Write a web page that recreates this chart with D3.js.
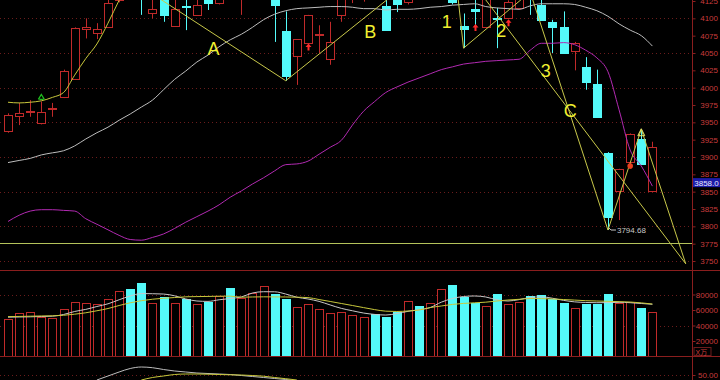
<!DOCTYPE html>
<html>
<head>
<meta charset="utf-8">
<script src="https://cdn.jsdelivr.net/npm/d3@7"></script>
<style>
html, body { margin: 0; padding: 0; background: #000; overflow: hidden; }
svg { display: block; }
</style>
</head>
<body>
<div id="chart"></div>
<script>
//---------------------------DATA--------------------------------//
// one entry per candle, left to right
var opens = [3938,3959,3965,3949,3969,3987,4013,4085,4078,4088,
             4126,4170,4140,4108,4135,4090,4118,4105,4135,4123,
             4160,4130,4140,4175,4170,4082,4045,4065,4076,4041,
             4105,4127,4140,4160,4118,4135,4124,4150,4130,4140,
             4150,4089,4113,4088,4100,4101,4114,4140,4119,4094,
             4088,4054,4030,4006,3906,3850,3892,3926,3852];
var highs = [3963,3978,3982,3980,3978,4026,4087,4100,4093,4130,
             4175,4190,4160,4135,4140,4127,4135,4130,4145,4150,
             4170,4165,4185,4210,4200,4110,4070,4105,4090,4095,
             4135,4150,4160,4170,4130,4140,4150,4160,4150,4170,
             4160,4107,4130,4130,4115,4126,4140,4150,4127,4098,
             4110,4066,4044,4026,3907,3883,3934,3940,3922];
var lows   = [3935,3946,3958,3947,3958,3985,4012,4071,4070,4087,
             4123,4132,4105,4100,4095,4088,4083,4104,4112,4120,
             4130,4105,4135,4170,4066,4010,4004,4063,4050,4033,
             4095,4122,4124,4130,4083,4109,4120,4128,4127,4135,
             4120,4057,4088,4087,4057,4099,4113,4105,4097,4050,
             4051,4025,3997,3957,3794.68,3809,3883,3889,3852];
var closes = [3961,3964,3967,3965,3971,4024,4086,4088,4084,4122,
             4165,4140,4128,4114,4105,4114,4116,4119,4122,4140,
             4135,4160,4180,4205,4119,4017,4070,4105,4078,4066,
             4130,4145,4155,4140,4084,4121,4140,4135,4145,4165,
             4124,4084,4110,4128,4098,4124,4132,4128,4098,4087,
             4051,4065,4009,3958,3814,3882,3933,3890,3915];
var volumes = [48000,56500,57000,51400,49300,60900,70700,68600,67300,73800,
               84500,87100,95200,68600,76400,69400,73800,67700,70700,78100,
               88800,75900,81500,91000,80600,73800,64300,67300,60900,55700,
               57400,53500,51400,54800,51400,57000,72000,65500,68600,86700,
               92300,77200,69400,65200,80200,67700,70700,78100,79000,74200,
               68600,62200,67700,67300,80600,68600,70000,62200,57000];

// moving average lines
var maYellow = [3979,3978,3979,3981,3986,3993,4018,4042,4063,4093,4126,4155,
                null,null,null,null,null,null,null,null,null,null,null,null,null,null,null,null,null,null,
                null,null,null,null,null,null,null,null,null,null,null,null,null,null,null,null,null,null,
                null,null,null,null,null,null,null,null,null,null,null];
var maGrey = [3892,3895,3898,3903,3906,3909,3916,3926,3935,3943,
              3953,3962,3972,3982,3997,4012,4024,4037,4047,4059,
              4069,4077,4087,4098,4106,4111,4114,4115,4116,4117,
              4117,4116,4114,4114,4112,4113,4113,4114,4116,4117,
              4119,4120,4121,4117,4115,4114,4113,4118,4121,4121,
              4121,4120,4116,4111,4103,4092,4083,4075,4060];
var maMagenta = [3807,3816,3822,3824,3824,3823,3822,3811,3803,3795,
                 3787,3781,3780,3784,3789,3797,3806,3814,3822,3831,
                 3842,3851,3861,3870,3880,3889,3890,3894,3904,3914,
                 3924,3946,3966,3980,3993,4001,4008,4014,4020,4026,
                 4030,4034,4036,4038,4039,4040,4041,4054,4064,4064,
                 4065,4062,4054,4043,4023,3968,3910,3887,3858];
var volMaGrey = [50700,51000,51200,51600,52000,54200,58100,60800,64500,68000,
                 73200,78100,81200,81000,80600,78300,74200,71600,71100,73200,
                 74800,76800,81900,83600,83500,80600,76500,74200,71100,66500,
                 62100,59000,56100,54300,53500,55400,58300,60400,63200,70100,
                 74800,77400,78100,76800,73200,71600,73400,76100,77000,75200,
                 72400,70500,69700,69400,69500,69900,69400,68400,67400];
var volMaYellow = [51500,51700,52000,52300,52500,53200,54600,56400,59000,61900,
                   65800,69300,72000,73900,75100,76100,77000,77300,77500,77800,
                   77900,76500,76800,77000,76900,76800,76500,76000,73500,71000,
                   68400,65800,63100,60500,58500,58100,58700,60000,63100,65200,
                   67200,68500,69300,70100,71600,72900,73800,74800,74700,74200,
                   73500,72800,72000,71600,71200,70800,70300,69200,67700];
// lower indicator panel (only the part inside the window)
var indGrey = [null,null,null,null,null,null,null,null,45,49,
               53,56.5,58,57.3,55.5,54,53,52,51.5,51,
               50.5,49.5,48.5,47.5,46.5,45.5,44,null,null,null,
               null,null,null,null,null,null,null,null,null,null,
               null,null,null,null,null,null,null,null,null,null,
               null,null,null,null,null,null,null,null,null];
var indYellow = [null,null,null,null,null,null,null,null,null,null,
                 null,null,45,47.5,49,50.5,51,51,50.8,50.5,
                 50.2,50,49.5,48.8,47.5,46.3,45,null,null,null,
                 null,null,null,null,null,null,null,null,null,null,
                 null,null,null,null,null,null,null,null,null,null,
                 null,null,null,null,null,null,null,null,null];

// wave drawing (candle index, price)
var waveABC = [[11, 4156], [25, 4010], [36, 4151]];
var wave123 = [[40.3, 4160], [41, 4057], [47, 4138], [54, 3794.68], [57, 3940], [61, 3746]];
var channel = [[40, 4190], [61, 3746]];
var supportLevel = 3776;
var waveLabels = ["A", "B", "1", "2", "3", "C"];
var waveLabelAt = [[18.5, 4056], [32.6, 4081], [39.5, 4095], [44.4, 4082], [48.4, 4024], [50.6, 3966]];
var arrowAt = [[27, 4058], [42, 4086], [45, 4093]];
var dotAt = [[56, 3887]];
var buyMarkAt = [[3, 3986]];
var peakMarkAt = [[57, 3935]];
var lowText = "3794.68";
var lowIndex = 54;

var priceTicks = [4125,4100,4075,4050,4025,4000,3975,3950,3925,3900,3875,3850,3825,3800,3775,3750];
var priceGrid = [4100,4050,4000,3950,3900,3850,3800,3750];
var volTicks = [80000,60000,40000,20000];
var volGrid = [80000,40000];
var indTicks = [50];
var lastPrice = 3858.0;

//----------------------------SVG--------------------------------//
const width = 720;
const height = 380;
const axisX = 692.5;
const red = "#c02a2a";
const cyan = "#54fafa";
const gridRed = "#6a1c1c";

const svg = d3.select("#chart").append("svg")
    .attr("width", width)
    .attr("height", height)
    .style("background", "#000");

const defs = svg.append("defs");
defs.append("clipPath").attr("id", "clipMain")
    .append("rect").attr("x", 0).attr("y", 0).attr("width", 692).attr("height", 270);
defs.append("clipPath").attr("id", "clipVol")
    .append("rect").attr("x", 0).attr("y", 271).attr("width", 692).attr("height", 85);
defs.append("clipPath").attr("id", "clipInd")
    .append("rect").attr("x", 0).attr("y", 357).attr("width", 692).attr("height", 23);

//---------------------------SCALES------------------------------//
const xScale = d3.scaleLinear().domain([0, 58]).range([8, 652.4]);
const yScale = d3.scaleLinear().domain([3750, 4125]).range([261, 1]);
const vScale = d3.scaleLinear().domain([0, 80000]).range([356.5, 294.5]);
const iScale = d3.scaleLinear().domain([45, 58]).range([380, 367]);

const main = svg.append("g").attr("clip-path", "url(#clipMain)");
const vol = svg.append("g").attr("clip-path", "url(#clipVol)");
const ind = svg.append("g").attr("clip-path", "url(#clipInd)");

//----------------------------GRID-------------------------------//
main.selectAll(".grid").data(priceGrid).enter().append("line")
    .attr("x1", 0).attr("x2", axisX)
    .attr("y1", d => Math.round(yScale(d)) + 0.5)
    .attr("y2", d => Math.round(yScale(d)) + 0.5)
    .attr("stroke", gridRed).attr("stroke-dasharray", "1,3");
vol.selectAll(".grid").data(volGrid).enter().append("line")
    .attr("x1", 0).attr("x2", axisX)
    .attr("y1", d => Math.round(vScale(d)) + 0.5)
    .attr("y2", d => Math.round(vScale(d)) + 0.5)
    .attr("stroke", gridRed).attr("stroke-dasharray", "1,3");
ind.selectAll(".grid").data(indTicks).enter().append("line")
    .attr("x1", 0).attr("x2", axisX)
    .attr("y1", d => Math.round(iScale(d)) + 0.5)
    .attr("y2", d => Math.round(iScale(d)) + 0.5)
    .attr("stroke", gridRed).attr("stroke-dasharray", "1,3");

//---------------------------CANDLES-----------------------------//
const candles = main.selectAll(".candle").data(opens).enter().append("g");
candles.append("line")
    .attr("x1", (d, i) => Math.round(xScale(i)) + 0.5)
    .attr("x2", (d, i) => Math.round(xScale(i)) + 0.5)
    .attr("y1", (d, i) => yScale(highs[i]))
    .attr("y2", (d, i) => yScale(lows[i]))
    .attr("stroke", (d, i) => closes[i] >= d ? red : cyan);
candles.append("rect")
    .attr("x", (d, i) => Math.round(xScale(i)) - 3.5)
    .attr("width", 8)
    .attr("y", (d, i) => Math.round(yScale(Math.max(d, closes[i]))) + 0.5)
    .attr("height", (d, i) => Math.max(1, Math.round(Math.abs(yScale(d) - yScale(closes[i])))))
    .attr("fill", (d, i) => closes[i] >= d ? "#000" : cyan)
    .attr("stroke", (d, i) => closes[i] >= d ? red : cyan);

//---------------------------MA LINES----------------------------//
function maLine(values, scale, color) {
    var line = d3.line()
        .defined(d => d != null)
        .x((d, i) => xScale(i))
        .y(d => scale(d))
        .curve(d3.curveMonotoneX);
    return function (g) {
        g.append("path")
            .attr("fill", "none")
            .attr("stroke", color)
            .attr("stroke-width", 1)
            .attr("d", line(values));
    };
}
main.call(maLine(maYellow, yScale, "#c8c83c"));
main.call(maLine(maGrey, yScale, "#bdbdbd"));
main.call(maLine(maMagenta, yScale, "#b22ab2"));

//--------------------------WAVES--------------------------------//
const wline = d3.line().x(d => xScale(d[0])).y(d => yScale(d[1]));
[waveABC, wave123, channel].forEach(function (pts) {
    main.append("path")
        .attr("fill", "none")
        .attr("stroke", "#c8c84a")
        .attr("stroke-width", 1)
        .attr("d", wline(pts));
});
main.append("line")
    .attr("x1", 0).attr("x2", axisX)
    .attr("y1", Math.round(yScale(supportLevel)) + 0.5)
    .attr("y2", Math.round(yScale(supportLevel)) + 0.5)
    .attr("stroke", "#b4c25a");

main.selectAll(".wlabel").data(waveLabels).enter().append("text")
    .attr("x", (d, i) => xScale(waveLabelAt[i][0]))
    .attr("y", (d, i) => yScale(waveLabelAt[i][1]))
    .attr("text-anchor", "middle")
    .attr("dominant-baseline", "central")
    .attr("fill", "#f0f030")
    .style("font", "18px 'Liberation Sans', Arial, sans-serif")
    .text(d => d);

// red up arrows
main.selectAll(".arrow").data(arrowAt).enter().append("path")
    .attr("transform", d => "translate(" + Math.round(xScale(d[0])) + "," + yScale(d[1]) + ")")
    .attr("d", "M0.5,-4 L3.5,-0.5 L1.5,-0.5 L1.5,3 L-0.5,3 L-0.5,-0.5 L-2.5,-0.5 Z")
    .attr("fill", "#ff2a2a");
main.selectAll(".dot").data(dotAt).enter().append("circle")
    .attr("cx", d => xScale(d[0]))
    .attr("cy", d => yScale(d[1]))
    .attr("r", 2.8)
    .attr("fill", "#e8401e");
main.selectAll(".buy").data(buyMarkAt).enter().append("path")
    .attr("transform", d => "translate(" + xScale(d[0]) + "," + yScale(d[1]) + ")")
    .attr("d", "M-3,2 L0,-3 L3,2 M-2,2 L2,2")
    .attr("fill", "none")
    .attr("stroke", "#1fc01f")
    .attr("stroke-width", 1.2);
main.selectAll(".peak").data(peakMarkAt).enter().append("path")
    .attr("transform", d => "translate(" + xScale(d[0]) + "," + yScale(d[1]) + ")")
    .attr("d", "M-3.5,3 L0,-4 L3.5,3 Z")
    .attr("fill", "none")
    .attr("stroke", "#e6e66a");

// lowest point note
const lowX = xScale(lowIndex);
const lowY = yScale(lows[lowIndex]);
main.append("path")
    .attr("d", "M" + (lowX + 1) + "," + (lowY - 2) + " L" + (lowX + 3) + "," + lowY + " L" + (lowX + 8) + "," + lowY)
    .attr("fill", "none")
    .attr("stroke", "#c8c8c8");
main.append("text")
    .attr("x", lowX + 9)
    .attr("y", lowY + 3)
    .attr("fill", "#c8c8c8")
    .style("font", "8px 'Liberation Sans', Arial, sans-serif")
    .text(lowText);

//--------------------------VOLUME-------------------------------//
vol.selectAll(".vbar").data(volumes).enter().append("rect")
    .attr("x", (d, i) => Math.round(xScale(i)) - 3.5)
    .attr("width", 8)
    .attr("y", d => Math.round(vScale(d)) + 0.5)
    .attr("height", d => Math.round(vScale(0) - vScale(d)))
    .attr("fill", (d, i) => closes[i] >= opens[i] ? "#000" : cyan)
    .attr("stroke", (d, i) => closes[i] >= opens[i] ? red : cyan);
vol.call(maLine(volMaGrey, vScale, "#c8c8c8"));
vol.call(maLine(volMaYellow, vScale, "#c8c83c"));

ind.call(maLine(indGrey, iScale, "#bdbdbd"));
ind.call(maLine(indYellow, iScale, "#c8c83c"));

//---------------------------FRAME-------------------------------//
svg.append("line").attr("x1", 0).attr("x2", width).attr("y1", 270.5).attr("y2", 270.5).attr("stroke", "#8a1e1e");
svg.append("line").attr("x1", 0).attr("x2", width).attr("y1", 356.5).attr("y2", 356.5).attr("stroke", "#8a1e1e");
svg.append("line").attr("x1", axisX).attr("x2", axisX).attr("y1", 0).attr("y2", height).attr("stroke", "#8a1e1e");

//----------------------------AXES-------------------------------//
function rightAxis(scale, ticks, fmt) {
    return function (g) {
        g.call(d3.axisRight(scale).tickValues(ticks).tickSize(3).tickFormat(fmt));
        g.select(".domain").remove();
        g.selectAll(".tick line").attr("stroke", "#8a1e1e");
        g.selectAll(".tick text")
            .attr("x", 25.5)
            .attr("text-anchor", "end")
            .attr("fill", "#c83c3c")
            .style("font", "8px 'Liberation Sans', Arial, sans-serif");
    };
}
svg.append("g").attr("transform", "translate(" + axisX + ",0)")
    .call(rightAxis(yScale, priceTicks, d3.format("d")));
svg.append("g").attr("transform", "translate(" + axisX + ",0)")
    .call(rightAxis(vScale, volTicks, d3.format("d")));
svg.append("g").attr("transform", "translate(" + axisX + ",0)")
    .call(rightAxis(iScale, indTicks, d3.format(".2f")));

// last price tag
const tagY = yScale(lastPrice) - 8;
svg.append("rect")
    .attr("x", axisX + 0.5).attr("y", tagY)
    .attr("width", 27).attr("height", 9)
    .attr("fill", "#1c1ca8");
svg.append("text")
    .attr("x", axisX + 14).attr("y", tagY + 7.5)
    .attr("text-anchor", "middle")
    .attr("fill", "#e8e8ff")
    .style("font", "8px 'Liberation Sans', Arial, sans-serif")
    .text(d3.format(".1f")(lastPrice));

// volume unit
svg.append("rect")
    .attr("x", axisX + 1.5).attr("y", 347.5)
    .attr("width", 17).attr("height", 8)
    .attr("fill", "none")
    .attr("stroke", "#6a1c1c");
svg.append("text")
    .attr("x", axisX + 3).attr("y", 354.5)
    .attr("fill", "#c83c3c")
    .style("font", "7px 'Liberation Sans', 'Noto Sans CJK SC', sans-serif")
    .text("X万");
</script>
</body>
</html>
